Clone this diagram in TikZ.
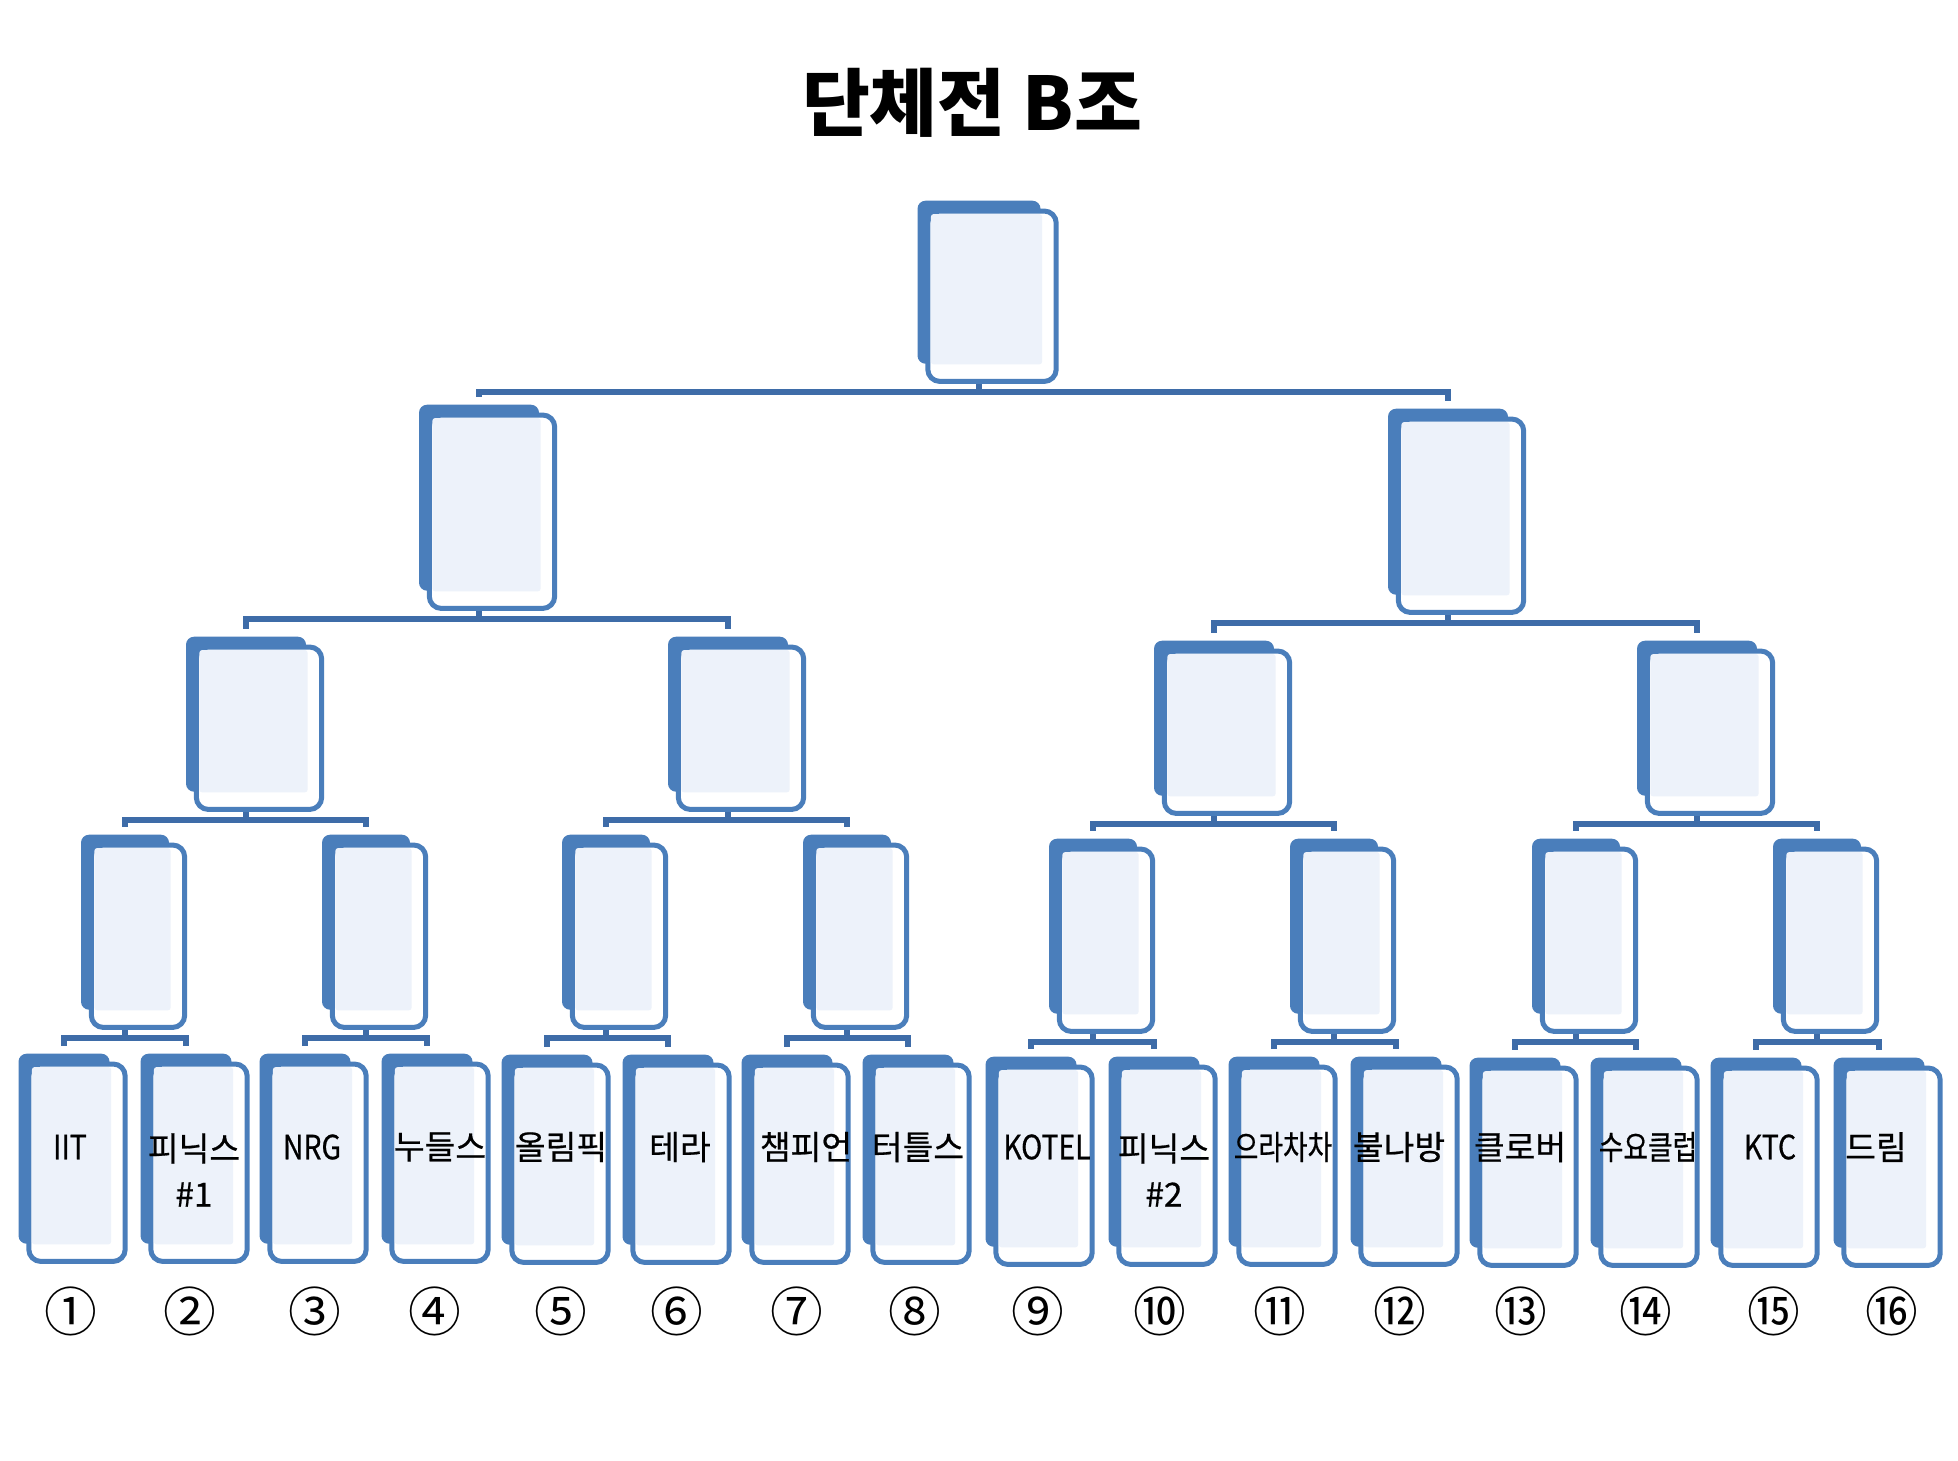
\documentclass[tikz,border=0pt]{standalone}
\usepackage{fontspec}
\setmainfont{Noto Sans CJK KR}
\newfontfamily\teamfont[FakeBold=0.6]{Noto Sans CJK KR}
\usetikzlibrary{positioning, backgrounds}
\definecolor{boxblue}{HTML}{4A7EBB}
\definecolor{linkblue}{HTML}{3E6CA8}
\definecolor{screen}{HTML}{EDF2FA}

% one bracket box: name, x, top, width, height (pixels)
\newcommand{\teambox}[5]{%
  \node[back, minimum width=#4*0.01cm, minimum height=#5*0.01cm, anchor=north] (#1) at (#2,#3) {};
  \draw[front] ([shift={(11,11)}]#1.north west) rectangle ([shift={(15,17)}]#1.south east);
  \fill[glass] ([shift={(14,14)}]#1.north west) rectangle ([shift={(1,0)}]#1.south east);
}

\begin{document}
\begin{tikzpicture}[x=0.01cm, y=-0.01cm,
    back/.style={fill=boxblue, rounded corners=0.08cm, inner sep=0pt},
    front/.style={draw=boxblue, line width=0.05cm, fill=white, rounded corners=0.12cm},
    glass/.style={fill=screen, rounded corners=0.03cm},
    link/.style={draw=linkblue, line width=0.06cm, shorten >=0.07cm},
    team/.style={font=\teamfont\fontsize{9.5}{13}\selectfont, align=center, inner sep=0pt},
    num/.style={font=\fontsize{15}{18}\selectfont, inner sep=0pt}]
    \useasboundingbox (0,0) rectangle (1958,1460);

    \node[font=\bfseries\fontsize{21}{25}\selectfont] (title) at (972,103) {단체전 B조};

    % final and semi-finals
    \teambox{fin}{979}{200}{123}{163}
    \teambox{sf1}{479}{404}{120}{186}
    \teambox{sf2}{1448}{408}{120}{186}
    % quarter-finals
    \foreach \i/\x/\y in {1/246/636, 2/728/636, 3/1214/640, 4/1697/640} {
        \teambox{qf\i}{\x}{\y}{120}{155}
    }
    % round of 16
    \foreach \i/\x/\y in {1/125/834, 2/366/834, 3/606/834, 4/847/834,
                          5/1093/838, 6/1334/838, 7/1576/838, 8/1817/838} {
        \teambox{ro\i}{\x}{\y}{88}{175}
    }
    % teams
    \foreach \i/\x/\y in {1/64/1053, 2/186/1053, 3/305/1053, 4/427/1053,
                          5/547/1054, 6/668/1054, 7/787/1054, 8/908/1054,
                          9/1031/1056, 10/1154/1056, 11/1274/1056, 12/1396/1056,
                          13/1515/1057, 14/1636/1057, 15/1756/1057, 16/1879/1057} {
        \teambox{tm\i}{\x}{\y}{91}{190}
    }

    % bracket lines
    \begin{scope}[on background layer]
        \foreach \p/\c in {fin/sf1, fin/sf2, sf1/qf1, sf1/qf2, sf2/qf3, sf2/qf4}
            \draw[link] (\p.south) -- ++(0,28) -| (\c.north);
        \foreach \i in {1,...,4} {
            \pgfmathtruncatemacro\a{2*\i-1}
            \pgfmathtruncatemacro\b{2*\i}
            \draw[link] (qf\i.south) -- ++(0,28) -| (ro\a.north);
            \draw[link] (qf\i.south) -- ++(0,28) -| (ro\b.north);
        }
        \foreach \i in {1,...,8} {
            \pgfmathtruncatemacro\a{2*\i-1}
            \pgfmathtruncatemacro\b{2*\i}
            \draw[link] (ro\i.south) -- ++(0,28) -| (tm\a.north);
            \draw[link] (ro\i.south) -- ++(0,28) -| (tm\b.north);
        }
    \end{scope}

    % team names
    \node[team] (lb1) at (70,1147) {\scalebox{0.85}[1]{IIT}};
    \node[team] (lb2) at (194,1170) {피닉스\\\#1};
    \node[team] (lb3) at (312,1147) {\scalebox{0.85}[1]{NRG}};
    \node[team] (lb4) at (440,1147) {누들스};
    \node[team] (lb5) at (561,1147) {올림픽};
    \node[team] (lb6) at (680,1147) {테라};
    \node[team] (lb7) at (806,1147) {챔피언};
    \node[team] (lb8) at (918,1147) {터틀스};
    \node[team] (lb9) at (1047,1147) {\scalebox{0.85}[1]{KOTEL}};
    \node[team] (lb10) at (1164,1170) {피닉스\\\#2};
    \node[team] (lb11) at (1283,1147) {\scalebox{0.8}[1]{으라차차}};
    \node[team] (lb12) at (1399,1147) {불나방};
    \node[team] (lb13) at (1520,1147) {클로버};
    \node[team] (lb14) at (1648,1147) {\scalebox{0.8}[1]{수요클럽}};
    \node[team] (lb15) at (1770,1147) {\scalebox{0.85}[1]{KTC}};
    \node[team] (lb16) at (1876,1147) {드림};

    % seed numbers
    \foreach \i/\x/\c in {1/71/①, 2/190/②, 3/315/③, 4/435/④, 5/561/⑤, 6/677/⑥,
                          7/797/⑦, 8/915/⑧, 9/1038/⑨, 10/1160/⑩, 11/1280/⑪, 12/1400/⑫,
                          13/1521/⑬, 14/1646/⑭, 15/1774/⑮, 16/1892/⑯}
        \node[num] (no\i) at (\x,1311) {\c};
\end{tikzpicture}
\end{document}
